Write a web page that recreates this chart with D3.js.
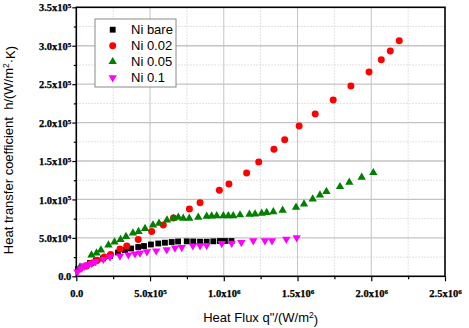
<!DOCTYPE html>
<html><head><meta charset="utf-8">
<script src="https://cdn.jsdelivr.net/npm/d3@7"></script>
<style>body{margin:0;background:#fff;} svg{display:block;}</style>
</head><body>
<svg id="chart" width="469" height="328"></svg>
<script>
// ---------- data ----------
const seriesNames = ["Ni bare", "Ni 0.02", "Ni 0.05", "Ni 0.1"];

const bareQ = [12000,52000,93000,134000,181000,228000,283000,330000,371000,420000,459000,506000,556000,601000,647000,690000,749000,793000,839000,884000,929000,974000,1008000,1052000];
const bareH = [9500,12800,17300,20600,23200,26400,31000,34200,36200,38100,39400,41400,42700,43700,44600,45300,45500,45300,45000,45000,45500,45900,45900,45900];

const ni002Q = [25000,70500,104000,142000,190000,233000,296000,342000,420000,511000,590000,659000,767000,839000,970000,1035000,1155000,1237000,1340000,1413000,1511000,1620000,1742000,1862000,1985000,2068000,2129000,2190000];
const ni002H = [9900,13800,16900,20800,25100,28400,35500,39400,47900,58300,66700,75800,87600,95800,111900,120100,134400,148700,165200,177700,195500,211200,229400,247600,265800,281800,293100,306500];

const ni005Q = [25000,103000,137000,167000,218000,259000,300000,337000,384000,422000,466000,520000,561000,615000,658000,692000,725000,766000,827000,884000,918000,952000,997000,1031000,1064000,1110000,1174000,1212000,1257000,1291000,1336000,1399000,1490000,1544000,1603000,1652000,1696000,1788000,1851000,1935000,2014000];
const ni005H = [12100,27700,30300,34200,40700,44600,47900,51800,56300,58300,62200,66700,69000,73200,75500,76800,75500,75500,76800,78100,78400,78800,78800,78800,78800,79800,80700,81000,82000,83000,83900,85900,89800,94100,100600,105800,110300,116600,122300,128800,134800];

const ni01Q = [8000,32000,52000,76000,103000,130000,183000,228000,296000,353000,398000,432000,479000,542000,613000,669000,715000,790000,839000,884000,986000,1054000,1119000,1200000,1279000,1327000,1424000,1494000];
const ni01H = [5600,10100,12800,14700,16900,19000,22100,25100,26400,28000,29300,30300,32000,33200,34600,36800,37500,39700,39800,40300,42700,43000,44000,46300,46300,46300,48300,50200];

const xTickValues = [0, 500000, 1000000, 1500000, 2000000, 2500000];
const xTickLabels = ["0.0", "5.0x10^5", "1.0x10^6", "1.5x10^6", "2.0x10^6", "2.5x10^6"];
const yTickValues = [0, 50000, 100000, 150000, 200000, 250000, 300000, 350000];
const yTickLabels = ["0.0", "5.0x10^4", "1.0x10^5", "1.5x10^5", "2.0x10^5", "2.5x10^5", "3.0x10^5", "3.5x10^5"];
const xMinorValues = [250000, 750000, 1250000, 1750000, 2250000];
const yMinorValues = [25000, 75000, 125000, 175000, 225000, 275000, 325000];

const xTitle = ["Heat Flux q\"/(W/m", "2", ")"];
const yTitle = ["Heat transfer coefficient  h/(W/m", "2", "\u00b7K)"];

// ---------- layout ----------
const L = 76.3, R = 445, T = 7.3, B = 276.3;
const svg = d3.select("#chart");
const x = d3.scaleLinear().domain([0, 2500000]).range([L, R]);
const y = d3.scaleLinear().domain([0, 350000]).range([B, T]);

const series = [
  {name: seriesNames[0], q: bareQ, h: bareH, type: d3.symbolSquare, size: 34, rot: 0, color: "#000000"},
  {name: seriesNames[1], q: ni002Q, h: ni002H, type: d3.symbolCircle, size: 38, rot: 0, color: "#ff0000"},
  {name: seriesNames[2], q: ni005Q, h: ni005H, type: d3.symbolTriangle, size: 30, rot: 0, color: "#007f00"},
  {name: seriesNames[3], q: ni01Q, h: ni01H, type: d3.symbolTriangle, size: 30, rot: 180, color: "#ff00ff"}
];

// grid
const grid = svg.append("g");
grid.selectAll(".gxm").data(xMinorValues).enter().append("line")
  .attr("x1", d => x(d)).attr("x2", d => x(d)).attr("y1", T).attr("y2", B)
  .attr("stroke", "#d8d8d8").attr("stroke-width", 1).attr("stroke-dasharray", "1.5,1.5");
grid.selectAll(".gym").data(yMinorValues).enter().append("line")
  .attr("y1", d => y(d)).attr("y2", d => y(d)).attr("x1", L).attr("x2", R)
  .attr("stroke", "#d8d8d8").attr("stroke-width", 1).attr("stroke-dasharray", "1.5,1.5");
grid.selectAll(".gx").data(xTickValues.slice(1, -1)).enter().append("line")
  .attr("x1", d => x(d)).attr("x2", d => x(d)).attr("y1", T).attr("y2", B)
  .attr("stroke", "#c4c4c4").attr("stroke-width", 1);
grid.selectAll(".gy").data(yTickValues.slice(1, -1)).enter().append("line")
  .attr("y1", d => y(d)).attr("y2", d => y(d)).attr("x1", L).attr("x2", R)
  .attr("stroke", "#c4c4c4").attr("stroke-width", 1.3);

// tick label helper with superscript
function supLabel(sel, label) {
  sel.text(null);
  const parts = label.split("^");
  sel.append("tspan").text(parts[0]);
  if (parts.length > 1) {
    sel.append("tspan").attr("dy", "-0.45em").attr("font-size", "7px").text(parts[1]);
  }
}

// axes
const xAxis = svg.append("g").attr("transform", `translate(0,${B})`)
  .call(d3.axisBottom(x).tickValues(xTickValues).tickSize(5).tickSizeOuter(0).tickFormat((d, i) => xTickLabels[i]));
const xAxisMinor = svg.append("g").attr("transform", `translate(0,${B})`)
  .call(d3.axisBottom(x).tickValues(xMinorValues).tickSize(3).tickSizeOuter(0).tickFormat(""));
const yAxis = svg.append("g").attr("transform", `translate(${L},0)`)
  .call(d3.axisLeft(y).tickValues(yTickValues).tickSize(4).tickSizeOuter(0).tickFormat((d, i) => yTickLabels[i]));
const yAxisMinor = svg.append("g").attr("transform", `translate(${L},0)`)
  .call(d3.axisLeft(y).tickValues(yMinorValues).tickSize(2.5).tickSizeOuter(0).tickFormat(""));

[xAxis, xAxisMinor, yAxis, yAxisMinor].forEach(a => {
  a.select(".domain").remove();
  a.selectAll(".tick line").attr("stroke", "#000").attr("stroke-width", 1.2);
});
xAxis.selectAll(".tick text")
  .attr("font-family", "'Liberation Serif','Times New Roman',serif").attr("font-weight", "bold")
  .attr("font-size", "10.5px").attr("fill", "#000").attr("stroke", "#000").attr("stroke-width", 0.25)
  .attr("y", 20.5).attr("dy", null)
  .each(function(d, i) { supLabel(d3.select(this), xTickLabels[i]); });
yAxis.selectAll(".tick text")
  .attr("font-family", "'Liberation Serif','Times New Roman',serif").attr("font-weight", "bold")
  .attr("font-size", "10.5px").attr("fill", "#000").attr("stroke", "#000").attr("stroke-width", 0.25)
  .attr("x", -5).attr("dy", "0.34em")
  .each(function(d, i) { supLabel(d3.select(this), yTickLabels[i]); });

// frame
svg.append("rect").attr("x", L).attr("y", T).attr("width", R - L).attr("height", B - T)
  .attr("fill", "none").attr("stroke", "#000").attr("stroke-width", 1.6);

// points
series.forEach(s => {
  const sym = d3.symbol().type(s.type).size(s.size);
  svg.append("g").selectAll("path").data(s.q.map((q, i) => [q, s.h[i]])).enter().append("path")
    .attr("d", sym)
    .attr("transform", d => `translate(${x(d[0])},${y(d[1])}) rotate(${s.rot})`)
    .attr("fill", s.color);
});

// legend
const lg = svg.append("g");
lg.append("rect").attr("x", 95).attr("y", 19).attr("width", 81).attr("height", 68)
  .attr("fill", "#fff").attr("stroke", "#8a8a8a").attr("stroke-width", 1);
series.forEach((s, i) => {
  const yy = 29.7 + i * 16;
  lg.append("path").attr("d", d3.symbol().type(s.type).size(s.size)())
    .attr("transform", `translate(112.7,${yy}) rotate(${s.rot})`).attr("fill", s.color);
  lg.append("text").attr("x", 131).attr("y", yy).attr("dy", "0.36em")
    .attr("font-family", "'Liberation Sans',Arial,sans-serif").attr("font-size", "13px")
    .attr("fill", "#000").text(s.name);
});

// axis titles
const xt = svg.append("text").attr("x", (L + R) / 2).attr("y", 322).attr("text-anchor", "middle")
  .attr("font-family", "'Liberation Sans',Arial,sans-serif").attr("font-size", "13px").attr("fill", "#000")
  .style("white-space", "pre");
xt.append("tspan").text(xTitle[0]);
xt.append("tspan").attr("dy", "-0.45em").attr("font-size", "8.5px").text(xTitle[1]);
xt.append("tspan").attr("dy", "0.45em").text(xTitle[2]);

const yt = svg.append("text").attr("transform", "translate(13,150) rotate(-90)").attr("text-anchor", "middle")
  .attr("font-family", "'Liberation Sans',Arial,sans-serif").attr("font-size", "13px").attr("fill", "#000")
  .style("white-space", "pre");
yt.append("tspan").text(yTitle[0]);
yt.append("tspan").attr("dy", "-0.45em").attr("font-size", "8.5px").text(yTitle[1]);
yt.append("tspan").attr("dy", "0.45em").text(yTitle[2]);
</script>
</body></html>
